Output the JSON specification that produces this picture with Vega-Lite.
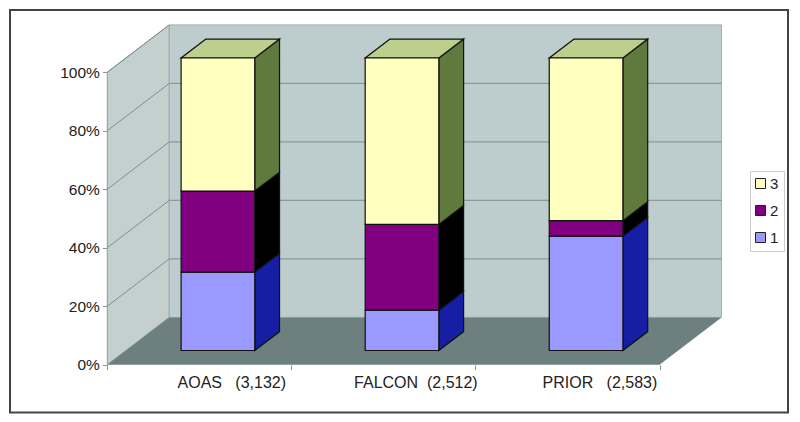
{
"$schema":"https://vega.github.io/schema/vega-lite/v6.json",
"width":778,"height":402.5,
"autosize":{"type":"none"},
"padding":{"left":10,"top":10,"right":12,"bottom":9.5},
"background":"white",
"view":{"stroke":"#444444","strokeWidth":2,"fill":"white"},
"datasets":{
"segments":[
{"group":"AOAS","order":0,"series":"1","value":26.8},
{"group":"AOAS","order":0,"series":"2","value":27.7},
{"group":"AOAS","order":0,"series":"3","value":45.5},
{"group":"FALCON","order":1,"series":"1","value":13.8},
{"group":"FALCON","order":1,"series":"2","value":29.3},
{"group":"FALCON","order":1,"series":"3","value":56.9},
{"group":"PRIOR","order":2,"series":"1","value":39.1},
{"group":"PRIOR","order":2,"series":"2","value":5.3},
{"group":"PRIOR","order":2,"series":"3","value":55.6}],
"ticks":[{"pct":0},{"pct":20},{"pct":40},{"pct":60},{"pct":80},{"pct":100}],
"frame":[{"d":0},{"d":1}]
},
"encoding":{
"x":{"field":"xa","type":"quantitative","scale":{"domain":[-0.5286,3.698],"nice":false,"zero":false},
"axis":{"title":null,"grid":false,"domain":false,"values":[0,1,2,3],"offset":-47.8,"tickSize":5,"tickColor":"#8a9a9a","labelOffset":124,"labelPadding":5,"labelFlush":false,"labelBound":false,"labelOverlap":false,"labelFont":"Liberation Sans","labelFontSize":16,"labelColor":"#222222","labelExpr":"['AOAS\u00a0\u00a0\u00a0(3,132)','FALCON\u00a0\u00a0(2,512)\u00a0','PRIOR\u00a0\u00a0\u00a0(2,583)',''][datum.value]"}},
"y":{"field":"ya","type":"quantitative","scale":{"domain":[-16.34,121.26],"nice":false,"zero":false},
"axis":{"title":null,"grid":false,"domain":false,"values":[0,20,40,60,80,100],"offset":-97.3,"tickSize":5,"tickColor":"#8a9a9a","labelPadding":3,"labelFont":"Liberation Sans","labelFontSize":15.5,"labelColor":"#222222","labelExpr":"datum.value+'%'"}}
},
"layer":[
{"data":{"name":"frame"},
"transform":[{"calculate":"datum.d*0.3368","as":"xa"},{"calculate":"datum.d*16.17","as":"ya"},{"calculate":"100+datum.d*16.17","as":"yb"}],
"mark":{"type":"area","fill":"#c3d0ce","stroke":"#8a9a9a","strokeWidth":1},
"encoding":{"y2":{"field":"yb"}}},
{"data":{"name":"frame"},
"transform":[{"calculate":"0.3368+3*datum.d","as":"xa"},{"calculate":"16.17","as":"ya"},{"calculate":"116.17","as":"yb"}],
"mark":{"type":"area","fill":"#bdcdcd","stroke":"#a0b0b0","strokeWidth":1},
"encoding":{"y2":{"field":"yb"}}},
{"data":{"name":"frame"},
"transform":[{"calculate":"datum.d*0.3368","as":"xa"},{"calculate":"3+datum.d*0.3368","as":"xb"},{"calculate":"datum.d*16.17","as":"ya"}],
"mark":{"type":"area","orient":"horizontal","fill":"#6d7f7f"},
"encoding":{"x2":{"field":"xb"}}},
{"data":{"name":"ticks"},
"transform":[{"filter":"datum.pct>0"},{"calculate":"[0,1]","as":"d"},{"flatten":["d"]},{"calculate":"datum.d*0.3368","as":"xa"},{"calculate":"datum.pct+datum.d*16.17","as":"ya"}],
"mark":{"type":"line","color":"#7f8f8f","strokeWidth":1},
"encoding":{"detail":{"field":"pct"}}},
{"data":{"name":"ticks"},
"transform":[{"filter":"datum.pct>0 && datum.pct<100"},{"calculate":"[0,1]","as":"d"},{"flatten":["d"]},{"calculate":"0.3368+3*datum.d","as":"xa"},{"calculate":"datum.pct+16.17","as":"ya"}],
"mark":{"type":"line","color":"#8a9a9a","strokeWidth":1.3},
"encoding":{"detail":{"field":"pct"}}},
{"data":{"name":"segments"},
"transform":[{"stack":"value","groupby":["group"],"sort":[{"field":"series","order":"ascending"}],"as":["low","high"]},
{"calculate":"[0,1]","as":"d"},{"flatten":["d"]},
{"calculate":"datum.order+0.801+0.1347*datum.d","as":"xa"},
{"calculate":"datum.low+4.85+6.47*datum.d","as":"ya"},
{"calculate":"datum.high+4.85+6.47*datum.d","as":"yb"}],
"mark":{"type":"area","stroke":"#111111","strokeWidth":1.2},
"encoding":{"y2":{"field":"yb"},"detail":{"field":"group"},
"fill":{"field":"series","type":"nominal","legend":null,"scale":{"domain":["3","2","1"],"range":["#5f7a3c","#000000","#161fa3"]}}}},
{"data":{"name":"segments"},
"transform":[{"filter":"datum.series=='3'"},
{"calculate":"[0,1]","as":"d"},{"flatten":["d"]},
{"calculate":"datum.order+0.401+0.1347*datum.d","as":"xa"},
{"calculate":"datum.order+0.801+0.1347*datum.d","as":"xb"},
{"calculate":"104.85+6.47*datum.d","as":"ya"}],
"mark":{"type":"area","orient":"horizontal","fill":"#bccf8c","stroke":"#111111","strokeWidth":1.2},
"encoding":{"x2":{"field":"xb"},"detail":{"field":"group"}}},
{"data":{"name":"segments"},
"transform":[{"stack":"value","groupby":["group"],"sort":[{"field":"series","order":"ascending"}],"as":["low","high"]},
{"calculate":"datum.order+0.401","as":"xa"},
{"calculate":"datum.order+0.801","as":"xb"},
{"calculate":"datum.low+4.85","as":"ya"},
{"calculate":"datum.high+4.85","as":"yb"}],
"mark":{"type":"rect","stroke":"#111111","strokeWidth":1.2},
"encoding":{"x2":{"field":"xb"},"y2":{"field":"yb"},
"fill":{"field":"series","type":"nominal","scale":{"domain":["3","2","1"],"range":["#ffffc0","#800080","#9999ff"]},
"legend":{"title":null,"orient":"none","legendX":740,"legendY":161,"symbolType":"square","symbolSize":100,"symbolStrokeColor":"#222222","symbolStrokeWidth":1,"symbolOffset":-2,"labelFont":"Liberation Sans","labelFontSize":15,"labelColor":"#222222","rowPadding":11,"padding":5,"strokeColor":"#cccccc","fillColor":"white","labelOffset":2}}}}
],
"resolve":{"scale":{"fill":"independent"}}
}
